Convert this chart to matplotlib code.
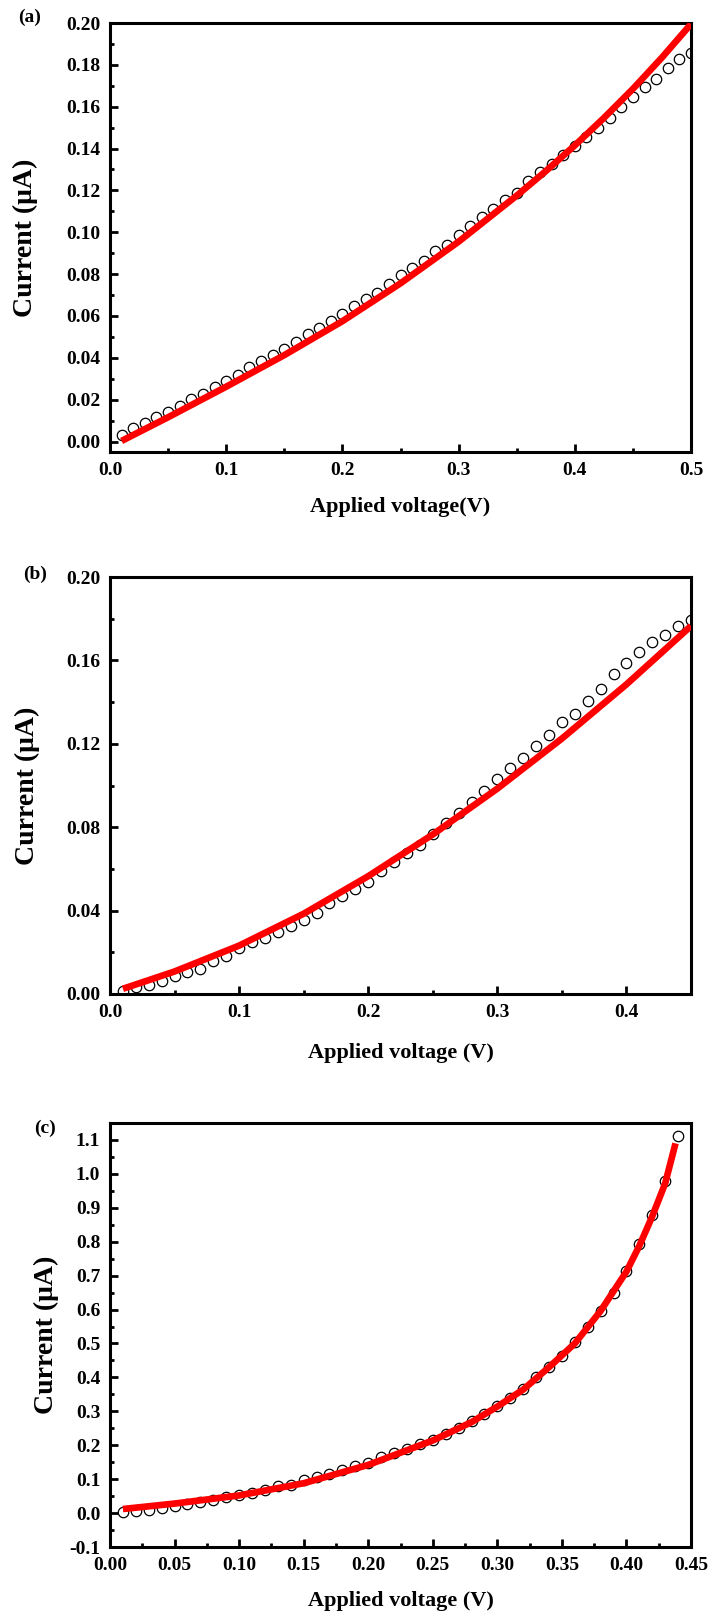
import numpy as np
import matplotlib
matplotlib.use("Agg")
import matplotlib.pyplot as plt
from matplotlib.ticker import MultipleLocator, FormatStrFormatter

plt.rcParams['font.family'] = ['Liberation Serif', 'DejaVu Serif']
plt.rcParams['font.weight'] = 'bold'
plt.rcParams['axes.unicode_minus'] = False

# panel (a) data
va = np.round(np.arange(1, 51) * 0.01, 2)
ia = [0.0032, 0.0063, 0.0089, 0.0116, 0.0140, 0.0168, 0.0203, 0.0227, 0.0259, 0.0290,
      0.0317, 0.0354, 0.0386, 0.0413, 0.0444, 0.0476, 0.0516, 0.0544, 0.0575, 0.0608,
      0.0648, 0.0679, 0.0711, 0.0754, 0.0794, 0.0830, 0.0865, 0.0910, 0.0941, 0.0989,
      0.1029, 0.1073, 0.1113, 0.1156, 0.1190, 0.1243, 0.1286, 0.1327, 0.1370, 0.1414,
      0.1457, 0.1500, 0.1544, 0.1597, 0.1648, 0.1695, 0.1732, 0.1783, 0.1830, 0.1859]
fit_va = [0.01, 0.05, 0.10, 0.15, 0.20, 0.25, 0.30, 0.35, 0.375, 0.40, 0.425, 0.45, 0.475, 0.50]
fit_ia = [0.0003, 0.0116, 0.0262, 0.0413, 0.0575, 0.0756, 0.0955, 0.1175, 0.1292, 0.1415,
          0.1546, 0.1685, 0.1835, 0.1995]

# panel (b) data
vb = np.round(np.arange(1, 46) * 0.01, 2)
ib = [0.0016, 0.0033, 0.0044, 0.0062, 0.0085, 0.0107, 0.0122, 0.0156, 0.0184, 0.0220,
      0.0250, 0.0269, 0.0296, 0.0328, 0.0353, 0.0389, 0.0435, 0.0471, 0.0504, 0.0537,
      0.0588, 0.0632, 0.0677, 0.0714, 0.0768, 0.0821, 0.0870, 0.0923, 0.0972, 0.1031,
      0.1084, 0.1133, 0.1190, 0.1240, 0.1305, 0.1343, 0.1404, 0.1465, 0.1535, 0.1588,
      0.1639, 0.1688, 0.1724, 0.1765, 0.1795]
fit_vb = [0.01, 0.05, 0.10, 0.15, 0.20, 0.25, 0.30, 0.35, 0.40, 0.45]
fit_ib = [0.0025, 0.0108, 0.0232, 0.0385, 0.0565, 0.0765, 0.0985, 0.1225, 0.1485, 0.1765]

# panel (c) data
vc = np.round(np.arange(1, 45) * 0.01, 2)
ic = [0.004, 0.006, 0.009, 0.016, 0.020, 0.026, 0.032, 0.039, 0.047, 0.054,
      0.060, 0.068, 0.081, 0.084, 0.097, 0.106, 0.116, 0.127, 0.139, 0.148,
      0.164, 0.176, 0.189, 0.203, 0.216, 0.234, 0.252, 0.271, 0.292, 0.315,
      0.340, 0.366, 0.400, 0.432, 0.463, 0.503, 0.548, 0.597, 0.650, 0.713,
      0.792, 0.879, 0.979, 1.113]
fit_vc = [0.01, 0.05, 0.10, 0.15, 0.20, 0.25, 0.28, 0.30, 0.32, 0.34, 0.36, 0.38,
          0.40, 0.41, 0.42, 0.43, 0.438]
fit_ic = [0.012, 0.028, 0.052, 0.088, 0.142, 0.214, 0.268, 0.314, 0.364, 0.430, 0.500, 0.596,
          0.712, 0.788, 0.875, 0.972, 1.09]

W, H = 709, 1616
fig = plt.figure(figsize=(W / 100, H / 100), dpi=100)


def make_ax(left, right, top, bottom):
    return fig.add_axes([left / W, 1 - bottom / H, (right - left) / W, (bottom - top) / H])


def style(ax):
    for s in ax.spines.values():
        s.set_linewidth(2.2)
    ax.tick_params(which='both', direction='in', width=2, labelsize=14, top=False, right=False)
    ax.tick_params(which='major', length=6, pad=7)
    ax.tick_params(which='minor', length=3)
    for lab in ax.get_xticklabels() + ax.get_yticklabels():
        lab.set_fontweight('bold')


panels = [
    (make_ax(110, 691, 23, 452), va, ia, fit_va, fit_ia, (0, 0.5), (-0.005, 0.2),
     0.1, 0.05, 0.02, 0.01, '%.1f', '%.2f', 'Applied voltage(V)', '(a)', (30, 17), 25, 507),
    (make_ax(110, 691, 577, 994), vb, ib, fit_vb, fit_ib, (0, 0.45), (0, 0.2),
     0.1, 0.05, 0.04, 0.02, '%.1f', '%.2f', 'Applied voltage (V)', '(b)', (35, 574), 27, 1053),
    (make_ax(110, 691, 1123, 1547), vc, ic, fit_vc, fit_ic, (0, 0.45), (-0.1, 1.15),
     0.05, 0.025, 0.1, 0.05, '%.2f', '%.1f', 'Applied voltage (V)', '(c)', (45, 1128), 46, 1601),
]

for (ax, x, y, fx, fy, xl, yl, xmaj, xmin, ymaj, ymin, xfmt, yfmt,
     xlabel, tag, tagpos, ylab_x, xlab_y) in panels:
    ax.plot(x, y, 'o', ms=7.5, mfc='none', mec='black', mew=0.9, zorder=2)
    ax.plot(fx, fy, '-', color='#ff0000', lw=4.8, solid_capstyle='butt', zorder=3)
    ax.set_xlim(*xl)
    ax.set_ylim(*yl)
    ax.xaxis.set_major_locator(MultipleLocator(xmaj))
    ax.xaxis.set_minor_locator(MultipleLocator(xmin))
    ax.yaxis.set_major_locator(MultipleLocator(ymaj))
    ax.yaxis.set_minor_locator(MultipleLocator(ymin))
    ax.xaxis.set_major_formatter(FormatStrFormatter(xfmt))
    ax.yaxis.set_major_formatter(FormatStrFormatter(yfmt))
    ax.set_xlabel(xlabel, fontsize=16, fontweight='bold')
    ax.set_ylabel('Current (μA)', fontsize=20, fontweight='bold', va='center')
    pos = ax.get_position()
    ax.yaxis.set_label_coords((ylab_x / W - pos.x0) / pos.width, 0.5)
    ax.xaxis.set_label_coords(0.5, ((1 - xlab_y / H) - pos.y0) / pos.height)
    ax.xaxis.label.set_va('center')
    style(ax)
    fig.text(tagpos[0] / W, 1 - tagpos[1] / H, tag, fontsize=14, fontweight='bold',
             ha='center', va='center')

fig.savefig('out.png', dpi=100)
